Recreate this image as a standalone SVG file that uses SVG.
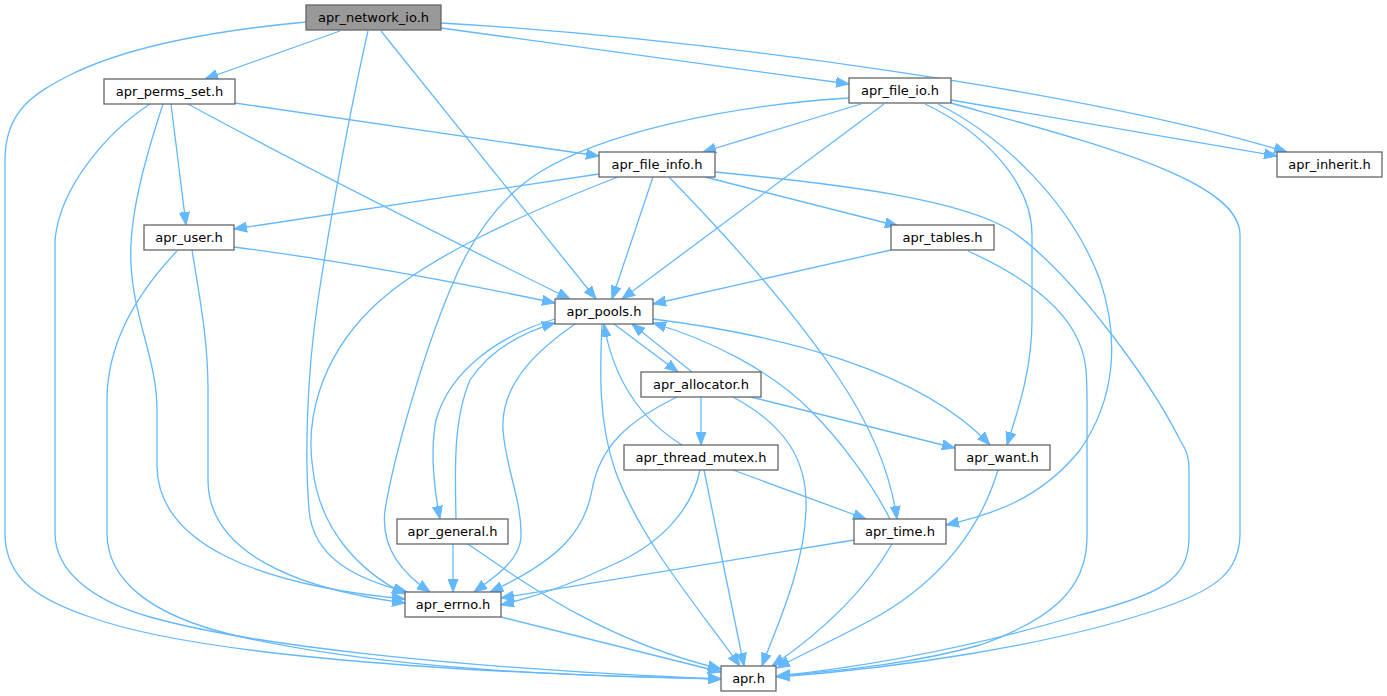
<svg xmlns="http://www.w3.org/2000/svg" width="1387" height="696" viewBox="0 0 1387 696">
<style>
.n rect{fill:#ffffff;stroke:#666666;stroke-width:1.3}
.n.main rect{fill:#999999}
.n text{font-family:"DejaVu Sans","Liberation Sans",sans-serif;font-size:13px;fill:#000000;text-anchor:middle}
.e path{fill:none;stroke:#63b8ff;stroke-width:1.3;marker-end:url(#arr)}
</style>
<defs>
<marker id="arr" markerUnits="userSpaceOnUse" markerWidth="14" markerHeight="11" refX="13" refY="5" orient="auto" viewBox="0 0 14 10">
<path d="M0,0 L13,5 L0,10 z" fill="#63b8ff" stroke="#63b8ff" stroke-width="1"/>
</marker>
</defs>
<rect width="1387" height="696" fill="#ffffff"/>
<g id="edges" class="e">
<path d="M340,31 L205,79"/>
<path d="M441,28 L849,84"/>
<path d="M441,23 C700,38 1080,90 1287,152"/>
<path d="M381,31 L596,299"/>
<path d="M368,31 C350,110 330,220 318,300 C306,380 305,460 309,510 C313,560 360,580 407,592"/>
<path d="M306,22 C220,30 130,45 70,75 C35,93 5,110 5,160 L5,533 C5,580 40,600 90,617 C180,650 400,672 721,679"/>
<path d="M171,104 L186,225"/>
<path d="M235,103 L599,156"/>
<path d="M188,104 C300,165 450,240 570,299"/>
<path d="M163,104 C148,150 128,215 131,265 C134,320 157,360 157,410 L157,465 C157,545 260,585 405,599"/>
<path d="M150,104 C110,130 60,185 55,240 L55,533 C55,570 90,600 150,617 C250,645 450,668 721,679"/>
<path d="M234,247 C350,262 470,285 555,303"/>
<path d="M192,250 C200,300 208,340 208,390 L208,480 C208,550 290,588 405,603"/>
<path d="M177,251 C140,290 107,340 107,400 L107,533 C107,580 150,615 233,635 C350,662 500,675 721,679"/>
<path d="M861,104 L703,152"/>
<path d="M884,104 L622,299"/>
<path d="M849,98 C720,106 600,135 540,172 C500,197 470,240 450,290 C425,350 395,450 385,510 C380,550 405,575 430,592"/>
<path d="M951,100 L1277,156"/>
<path d="M925,104 C980,130 1032,180 1032,235 L1032,320 C1032,370 1018,410 1007,445"/>
<path d="M938,104 C1000,135 1070,200 1100,280 C1120,340 1115,400 1080,450 C1040,500 990,515 946,525"/>
<path d="M951,103 C1100,145 1240,180 1240,235 L1240,533 C1240,570 1220,590 1150,612 C1050,645 900,668 777,677"/>
<path d="M599,174 L234,229"/>
<path d="M618,177 C520,215 420,260 370,310 C320,360 305,420 313,470 C320,530 360,572 405,594"/>
<path d="M653,177 L612,299"/>
<path d="M669,177 C740,250 800,320 840,380 C870,425 890,470 897,519"/>
<path d="M705,177 L898,226"/>
<path d="M715,172 C850,185 960,200 1010,230 C1070,270 1150,380 1180,440 C1186,450 1189,455 1189,470 L1189,537 C1189,580 1160,595 1080,615 C980,645 880,665 777,676"/>
<path d="M891,250 L653,304"/>
<path d="M968,251 C1010,270 1060,300 1078,340 C1086,358 1087,370 1087,400 L1087,537 C1087,590 1050,620 980,645 C920,662 850,670 777,676"/>
<path d="M614,324 L678,372"/>
<path d="M692,372 L632,324"/>
<path d="M682,445 C650,425 615,390 604,324"/>
<path d="M890,519 C870,480 840,440 810,410 C770,370 710,340 653,323"/>
<path d="M456,519 C455,470 453,420 470,380 C490,350 520,333 555,323"/>
<path d="M555,319 C500,335 450,370 436,420 C430,450 434,490 440,519"/>
<path d="M575,324 C545,345 500,380 503,430 C506,470 522,500 521,537 C520,560 495,577 474,592"/>
<path d="M602,324 C600,370 598,420 615,470 C640,540 700,610 740,666"/>
<path d="M653,319 C780,335 920,370 990,445"/>
<path d="M701,397 L701,445"/>
<path d="M751,397 L955,448"/>
<path d="M677,397 C630,420 600,445 592,490 C585,530 560,560 490,592"/>
<path d="M733,397 C785,425 808,460 806,510 C804,570 775,630 762,666"/>
<path d="M733,470 L866,519"/>
<path d="M700,470 C692,510 660,545 610,566 C570,585 530,598 501,605"/>
<path d="M704,470 L744,666"/>
<path d="M998,470 C980,530 940,580 880,615 C835,640 800,655 777,668"/>
<path d="M854,540 L501,598"/>
<path d="M892,544 C860,600 810,640 772,666"/>
<path d="M453,544 L453,592"/>
<path d="M468,544 C520,580 600,640 721,669"/>
<path d="M501,617 L721,672"/>
</g>
<g id="apr_network_io" class="n main"><rect x="306" y="5" width="135" height="25"/><text x="373.5" y="22">apr_network_io.h</text></g>
<g id="apr_perms_set" class="n"><rect x="104" y="79" width="131" height="25"/><text x="169.5" y="96">apr_perms_set.h</text></g>
<g id="apr_file_io" class="n"><rect x="849" y="78" width="102" height="25"/><text x="900" y="95">apr_file_io.h</text></g>
<g id="apr_file_info" class="n"><rect x="599" y="152" width="116" height="25"/><text x="657" y="169">apr_file_info.h</text></g>
<g id="apr_inherit" class="n"><rect x="1277" y="152" width="105" height="25"/><text x="1329.5" y="169">apr_inherit.h</text></g>
<g id="apr_user" class="n"><rect x="144" y="225" width="90" height="25"/><text x="189" y="242">apr_user.h</text></g>
<g id="apr_tables" class="n"><rect x="891" y="225" width="103" height="25"/><text x="942.5" y="242">apr_tables.h</text></g>
<g id="apr_pools" class="n"><rect x="555" y="299" width="98" height="25"/><text x="604" y="316">apr_pools.h</text></g>
<g id="apr_allocator" class="n"><rect x="641" y="372" width="120" height="25"/><text x="701" y="389">apr_allocator.h</text></g>
<g id="apr_want" class="n"><rect x="955" y="445" width="95" height="25"/><text x="1002.5" y="462">apr_want.h</text></g>
<g id="apr_thread_mutex" class="n"><rect x="624" y="445" width="154" height="25"/><text x="701" y="462">apr_thread_mutex.h</text></g>
<g id="apr_general" class="n"><rect x="397" y="519" width="111" height="25"/><text x="452.5" y="536">apr_general.h</text></g>
<g id="apr_time" class="n"><rect x="854" y="519" width="92" height="25"/><text x="900" y="536">apr_time.h</text></g>
<g id="apr_errno" class="n"><rect x="405" y="592" width="96" height="25"/><text x="453" y="609">apr_errno.h</text></g>
<g id="apr" class="n"><rect x="721" y="666" width="55" height="25"/><text x="748.5" y="683">apr.h</text></g>
</svg>
